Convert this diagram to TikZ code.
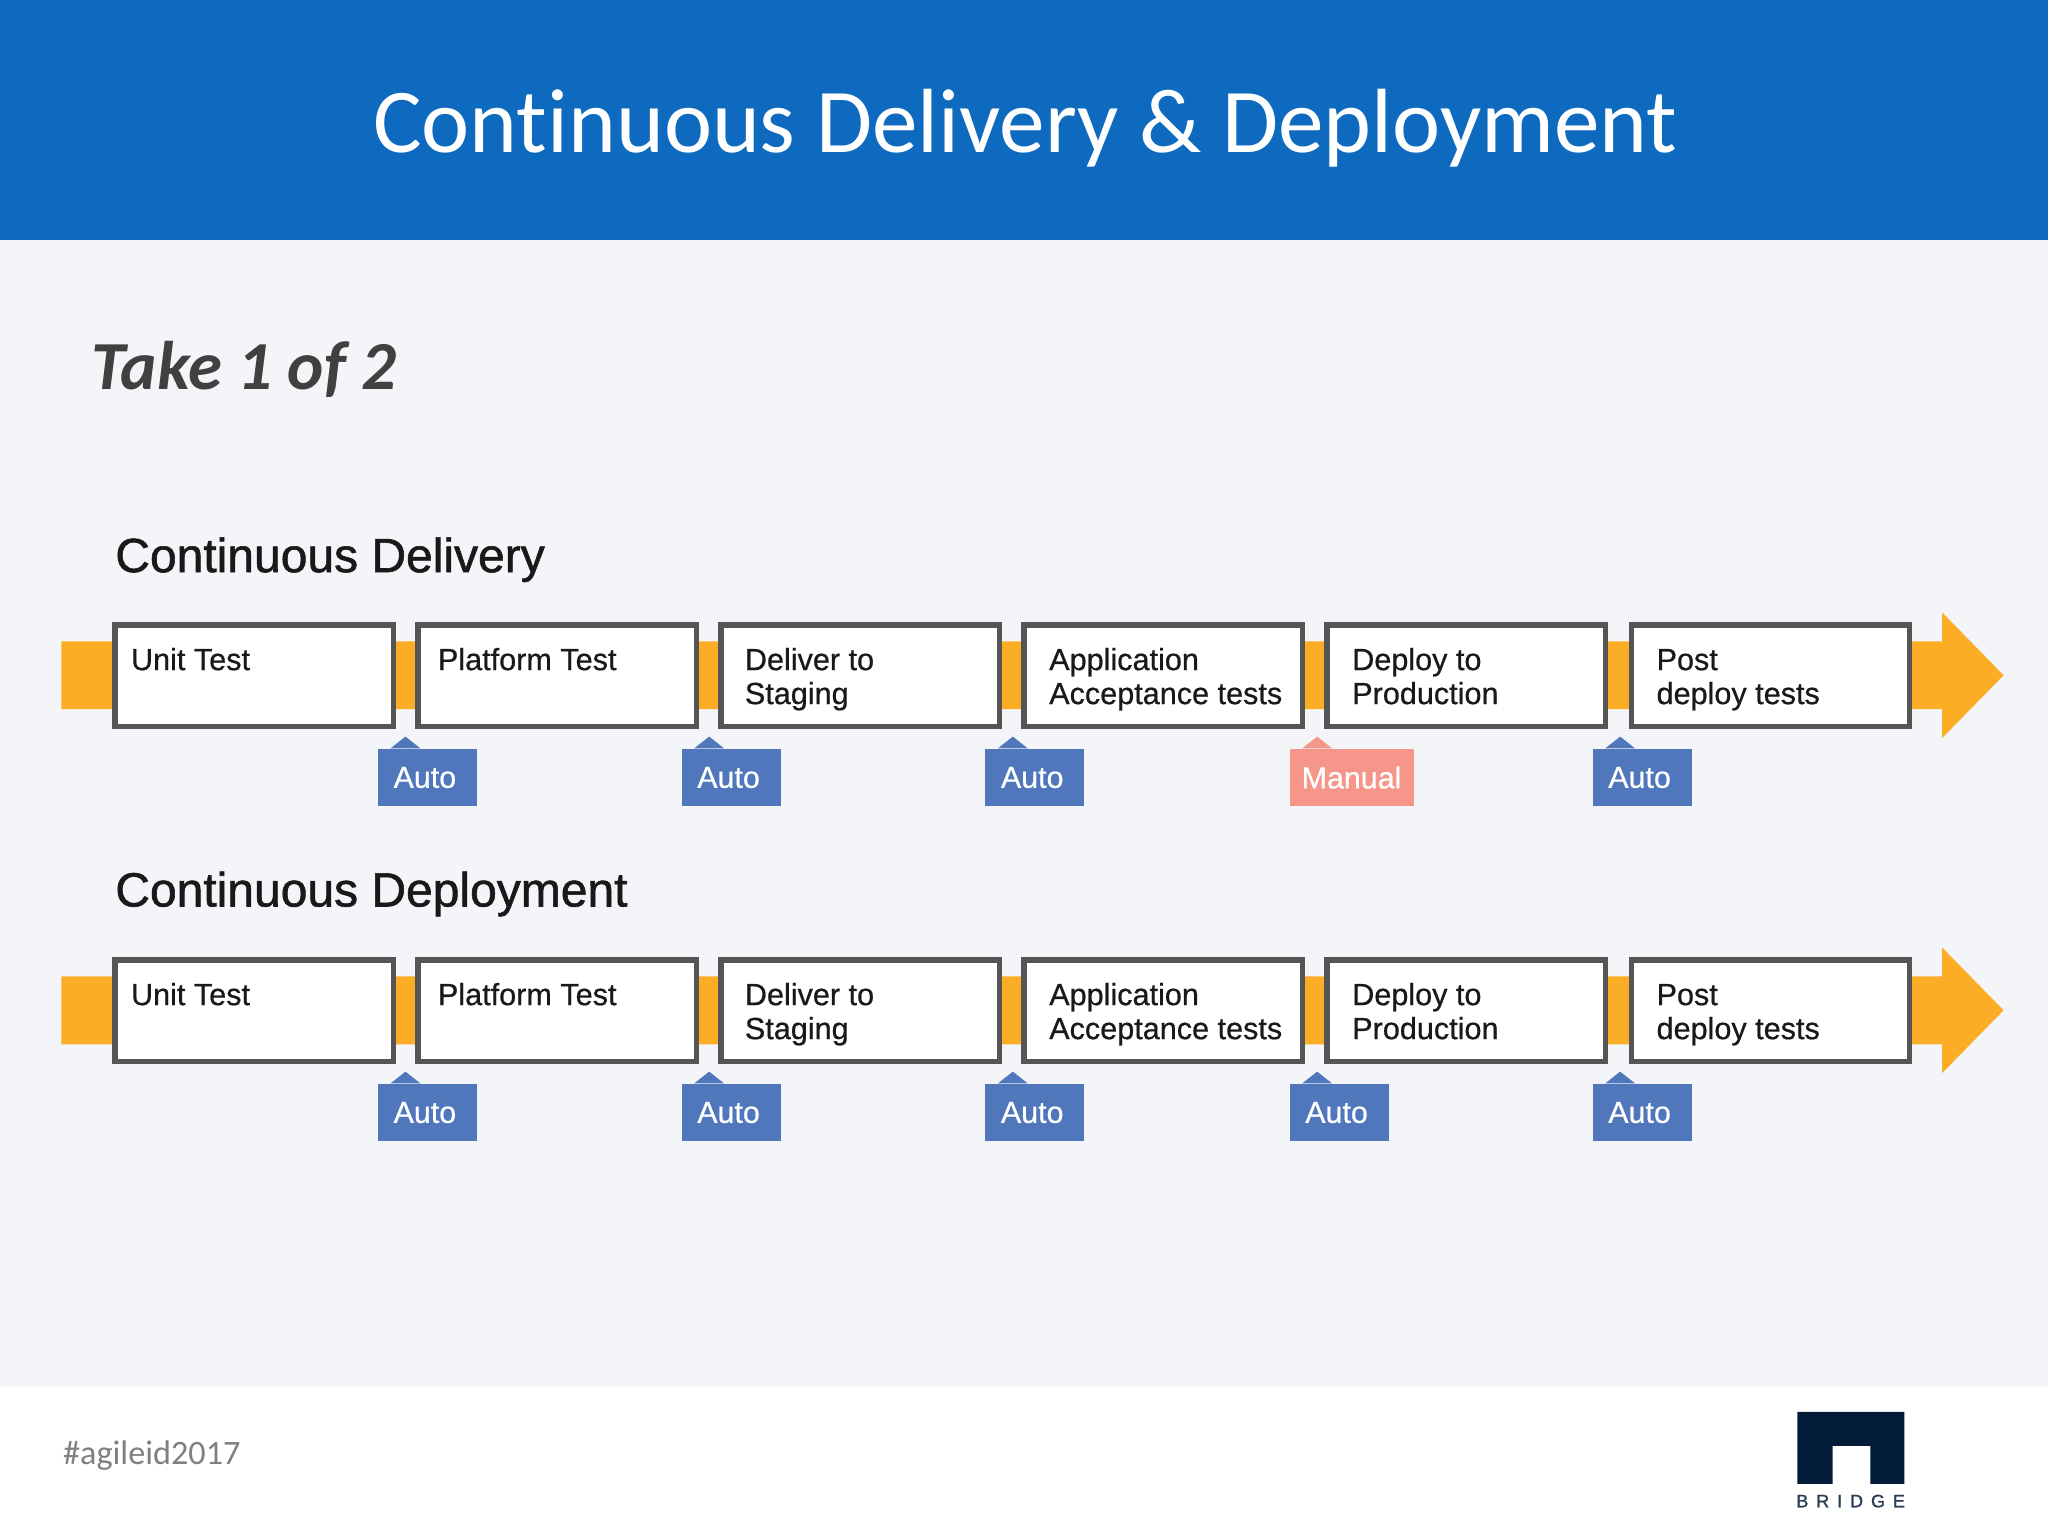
\documentclass[tikz,border=0pt]{standalone}
\usepackage{fontspec}
\setmainfont{Carlito}[Ligatures=CommonOff]
\newfontfamily\diag{Liberation Sans}
\newfontfamily\diagm{Liberation Sans}[FakeBold=0.6]
\newfontfamily\diagh{Liberation Sans}[FakeBold=1.2]
\definecolor{hdr}{HTML}{0D6ABF}
\definecolor{bgp}{HTML}{F3F5F9}
\definecolor{band}{HTML}{FCAD26}
\definecolor{edge}{HTML}{555555}
\definecolor{autoc}{HTML}{5076BC}
\definecolor{manualc}{HTML}{F6968A}
\definecolor{logoc}{HTML}{021B38}
\tikzset{
  x=0.65306pt,y=-0.65306pt,
  stage/.style={draw=edge,fill=white,line width=2.6pt,minimum width=141pt-1.9pt,minimum height=52.2pt-1.3pt,inner sep=0pt,anchor=north west},
  stext/.style={inner sep=0pt,anchor=north west,align=left,font=\diagm\fontsize{15.3}{17}\selectfont,text=black!90},
  tag/.style={inner sep=0pt,minimum height=28.7pt,anchor=north west,text=white,font=\diagm\fontsize{15.2}{17}\selectfont},
  auto/.style={tag,fill=autoc,minimum width=49.6pt},
  manual/.style={tag,fill=manualc,minimum width=62pt},
  head/.style={inner sep=0pt,anchor=base west,font=\diagh\fontsize{24}{28}\selectfont,text=black!90},
}
% #1 name, #2 box left x, #3 top y, #4 text offset, #5 text
\newcommand{\stagebox}[5]{
  \node[stage] (#1) at (#2,#3-0.5) {};
  \node[stext] (#1t) at (#2+#4,#3+17.5) {\strut #5};
}
% #1 name, #2 left x, #3 top y, #4 style, #5 text
\newcommand{\tagbox}[5]{
  \node[#4] (#1) at (#2,#3) {#5};
  \fill[fill=#4c] ([xshift=6.5pt]#1.north west) -- ++(7.5pt,5.9pt) -- ++(7.5pt,-5.9pt) -- cycle;
}
\newcommand{\pipeline}[2]{
  \fill[band] (47,#1+14) -- (1487,#1+14) -- (1487,#1-8) -- (1534,#1+40) -- (1487,#1+88) -- (1487,#1+66) -- (47,#1+66) -- cycle;
  \stagebox{#2a}{86}{#1}{14}{Unit Test}
  \stagebox{#2b}{318}{#1}{17}{Platform Test}
  \stagebox{#2c}{550}{#1}{20}{Deliver to\\Staging}
  \stagebox{#2d}{782}{#1}{21}{Application\\Acceptance tests}
  \stagebox{#2e}{1014}{#1}{21}{Deploy to\\Production}
  \stagebox{#2f}{1247}{#1}{21}{Post\\deploy tests}
}
\begin{document}
\begin{tikzpicture}
\useasboundingbox (0,0) rectangle (1568,1176);
\fill[white] (0,0) rectangle (1568,1176);
\fill[bgp] (0,184) rectangle (1568,1062);
\fill[hdr] (0,0) rectangle (1568,184);
\node[inner sep=0pt,text=white,font=\fontsize{45.6}{50}\selectfont] (title) at (785,98) {Continuous Delivery \& Deployment};
\node[inner sep=0pt,anchor=base west,text=black!75,font=\fontsize{34.4}{38}\selectfont\bfseries\itshape] (take) at (70,298) {Take 1 of 2};
\node[head] (h1) at (88,438) {Continuous Delivery};
\node[head] (h2) at (88,694) {Continuous Deployment};
\pipeline{477}{p}
\pipeline{733.5}{q}
\foreach \n/\x in {a/289,b/521.5,c/754,e/1219}{
  \tagbox{pt\n}{\x}{573}{auto}{Auto\kern2.6pt}
}
\tagbox{ptd}{987}{573}{manual}{Manual}
\foreach \n/\x in {a/289,b/521.5,c/754,d/987,e/1219}{
  \tagbox{qt\n}{\x}{829.5}{auto}{Auto\kern2.6pt}
}
\node[inner sep=0pt,anchor=base west,text=black!50,font=\fontsize{17.1}{20}\selectfont] (hash) at (48,1121) {\#agileid2017};
\fill[logoc] (1376,1081) -- (1458,1081) -- (1458,1136) -- (1432,1136) -- (1432,1107) -- (1403,1107) -- (1403,1136) -- (1376,1136) -- cycle;
\node[inner sep=0pt,anchor=base west,text=logoc!85,font=\diagh\fontsize{9}{10}\selectfont] (logo) at (1375,1154) {\addfontfeature{LetterSpace=44}BRIDGE};
\end{tikzpicture}
\end{document}
